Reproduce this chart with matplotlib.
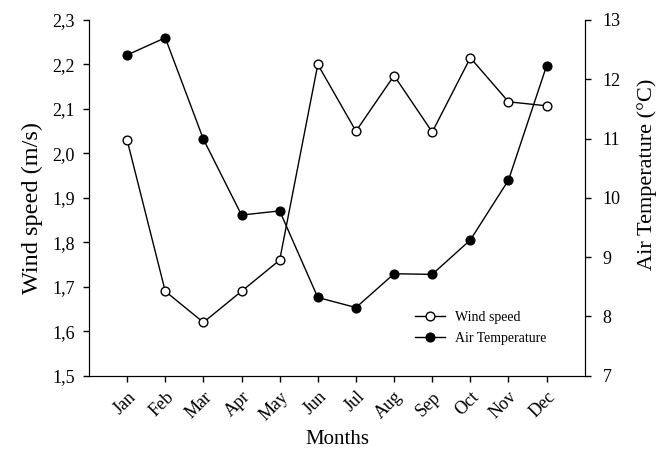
import numpy as np
import matplotlib.pyplot as plt
from matplotlib.ticker import FuncFormatter

plt.rcParams['font.family'] = ['Liberation Serif', 'DejaVu Serif']

# data
months = ['Jan', 'Feb', 'Mar', 'Apr', 'May', 'Jun', 'Jul', 'Aug', 'Sep', 'Oct', 'Nov', 'Dec']
wind = [2.03, 1.69, 1.62, 1.69, 1.76, 2.20, 2.05, 2.175, 2.048, 2.215, 2.116, 2.107]
temp = [12.41, 12.70, 10.99, 9.71, 9.78, 8.32, 8.15, 8.72, 8.71, 9.29, 10.30, 12.23]

x = np.arange(1, len(months) + 1)

fig = plt.figure(figsize=(6.7, 4.5), dpi=100)
ax = fig.add_axes([0.1328, 0.165, 0.740, 0.7906])
ax2 = ax.twinx()

l1, = ax.plot(x, wind, color='black', lw=1, marker='o', ms=6.3,
              markerfacecolor='white', markeredgecolor='black', mew=1, label='Wind speed')
l2, = ax2.plot(x, temp, color='black', lw=1, marker='o', ms=6.3,
               markerfacecolor='black', markeredgecolor='black', label='Air Temperature')

ax.set_xlim(0, 13)
ax.set_ylim(1.5, 2.3)
ax2.set_ylim(7, 13)
ax.set_yticks(np.arange(1.5, 2.31, 0.1))
ax.yaxis.set_major_formatter(FuncFormatter(lambda v, p: f'{v:.1f}'.replace('.', ',')))
ax2.set_yticks(np.arange(7, 14, 1))

ax.set_xticks(x)
ax.set_xticklabels(months, rotation=45, ha='right', rotation_mode='anchor')

for a in (ax, ax2):
    a.spines['top'].set_visible(False)
    a.tick_params(direction='out', labelsize=13, length=4, width=1)
ax.tick_params(axis='y', pad=6)
ax2.tick_params(axis='y', pad=9)
ax.tick_params(axis='x', labelsize=13, pad=5)

ax.set_xlabel('Months', fontsize=15)
ax.set_ylabel('Wind speed (m/s)', fontsize=17.5)
ax2.set_ylabel('Air Temperature (°C)', fontsize=16)
ax.xaxis.set_label_coords(0.5, -0.152)
ax.yaxis.set_label_coords(-0.093, 0.471)
ax2.yaxis.set_label_coords(1.105, 0.567)

ax.legend([l1, l2], ['Wind speed', 'Air Temperature'], frameon=False, fontsize=10,
          loc='center left', bbox_to_anchor=(0.657, 0.134), borderaxespad=0, borderpad=0,
          handlelength=2.2, handletextpad=0.7, labelspacing=0.6)

plt.savefig('out.png', dpi=100)
